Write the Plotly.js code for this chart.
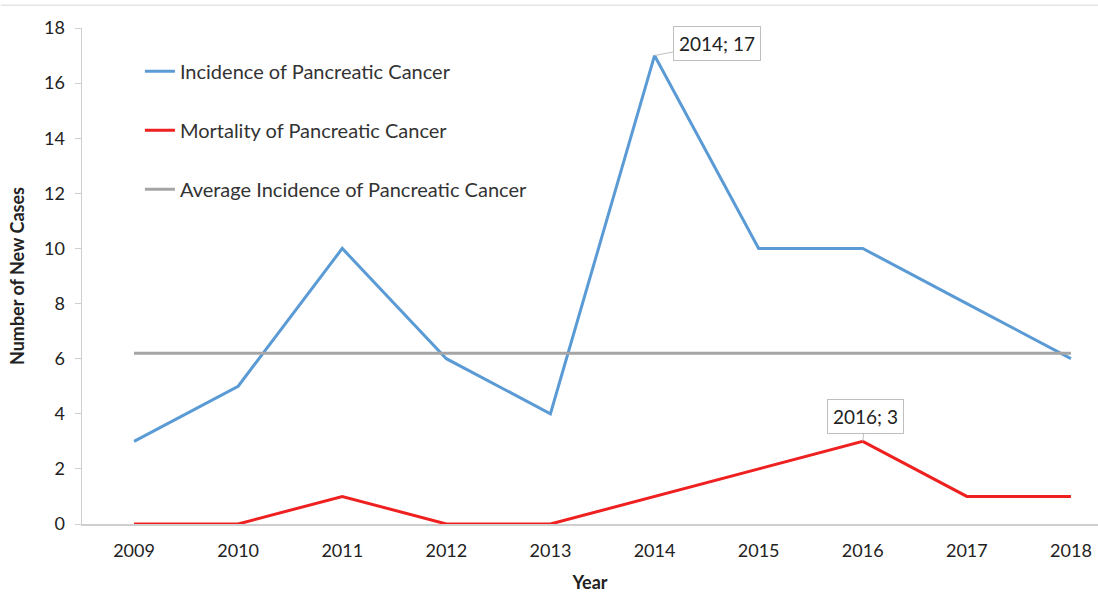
<!DOCTYPE html>
<html><head><meta charset="utf-8">
<script src="https://cdn.plot.ly/plotly-3.0.1.min.js"></script>
<style>html,body{margin:0;padding:0;background:#fff}#chart{width:1098px;height:593px}</style>
</head><body><div id="chart"></div>
<script>
const years = [2009, 2010, 2011, 2012, 2013, 2014, 2015, 2016, 2017, 2018];
const incidence = [3, 5, 10, 6, 4, 17, 10, 10, 8, 6];
const mortality = [0, 0, 1, 0, 0, 1, 2, 3, 1, 1];
const averageIncidence = [6.2, 6.2, 6.2, 6.2, 6.2, 6.2, 6.2, 6.2, 6.2, 6.2];
const seriesNames = ["Incidence of Pancreatic Cancer", "Mortality of Pancreatic Cancer", "Average Incidence of Pancreatic Cancer"];
const yTicks = [0, 2, 4, 6, 8, 10, 12, 14, 16, 18];

const font = "Lato, 'Open Sans', sans-serif";
const traces = [
  {x: years, y: incidence, name: seriesNames[0], mode: "lines", line: {color: "#5B9BD5", width: 3}, legendgroup: "a"},
  {x: years, y: mortality, name: seriesNames[1], mode: "lines", line: {color: "#EE2020", width: 3}, legendgroup: "b"},
  {x: years, y: averageIncidence, name: seriesNames[2], mode: "lines", line: {color: "#A5A5A5", width: 3}, legendgroup: "c"}
];
const layout = {
  width: 1098, height: 593,
  margin: {l: 82, r: 0, t: 28, b: 69},
  paper_bgcolor: "#fff", plot_bgcolor: "#fff",
  font: {family: font, size: 18, color: "#222"},
  showlegend: true,
  legend: {x: 0.057, y: 0.952, xanchor: "left", yanchor: "top", tracegroupgap: 30, bgcolor: "rgba(0,0,0,0)", font: {size: 20, color: "#333"}},
  xaxis: {
    range: [2008.5, 2018.26], tickvals: years, ticktext: years.map(String),
    showgrid: false, zeroline: false, showline: true, linecolor: "#CFCFCF", linewidth: 1.5,
    ticks: "", ticklen: 0, ticklabelstandoff: 10, tickfont: {size: 18, color: "#222"},
    title: {text: "<b>Year</b>", font: {size: 18, color: "#222"}, standoff: 25}
  },
  yaxis: {
    range: [0, 18], tickvals: yTicks, showgrid: false, zeroline: false,
    showline: true, linecolor: "#CFCFCF", linewidth: 1.5,
    ticks: "outside", ticklen: 6, tickcolor: "#CFCFCF", ticklabelstandoff: 6, tickfont: {size: 18, color: "#222"},
    title: {text: "<b>Number of New Cases</b>", font: {size: 18, color: "#222"}, standoff: 14}
  },
  annotations: [
    {x: years[5], y: incidence[5], xref: "x", yref: "y", text: years[5] + "; " + incidence[5],
     showarrow: true, arrowhead: 0, arrowwidth: 1, arrowcolor: "#BFBFBF", ax: 62, ay: -12,
     bordercolor: "#BFBFBF", borderwidth: 1, borderpad: 5, bgcolor: "#fff", font: {size: 19, color: "#222"}},
    {x: years[7], y: mortality[7], xref: "x", yref: "y", text: years[7] + "; " + mortality[7],
     showarrow: true, arrowhead: 0, arrowwidth: 1, arrowcolor: "#BFBFBF", ax: 3, ay: -25,
     bordercolor: "#BFBFBF", borderwidth: 1, borderpad: 5, bgcolor: "#fff", font: {size: 19, color: "#222"}}
  ],
  shapes: [
    {type: "line", xref: "paper", yref: "paper", x0: -0.08, x1: 1, y0: 1.046, y1: 1.046, line: {color: "#D9D9D9", width: 1}}
  ]
};
Plotly.newPlot("chart", traces, layout, {displayModeBar: false, staticPlot: true});
</script></body></html>
